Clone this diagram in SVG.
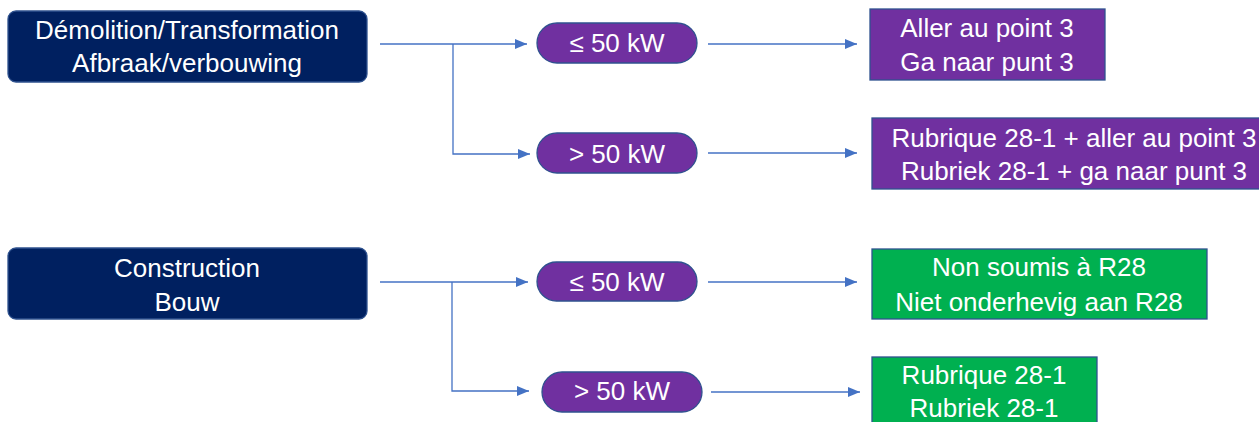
<svg xmlns="http://www.w3.org/2000/svg" width="1259" height="422" viewBox="0 0 1259 422">
<defs>
<style>
.dark{fill:#002060;stroke:#2F528F;stroke-width:1.3}
.pill{fill:#7030A0;stroke:#2F528F;stroke-width:1.3}
.res{fill:#7030A0;stroke:#2F528F;stroke-width:1.3}
.ok{fill:#00B050;stroke:#2F528F;stroke-width:1.3}
text{font-family:"Liberation Sans",Arial,sans-serif;font-size:26px;fill:#FFFFFF;text-anchor:middle}
.c{fill:none;stroke:#4472C4;stroke-width:1.3}
</style>
<marker id="ar" markerUnits="userSpaceOnUse" markerWidth="14" markerHeight="12" refX="12" refY="5" orient="auto">
<path d="M0,0 L12,5 L0,10 Z" fill="#4472C4"/>
</marker>
</defs>
<g id="connectors">
<path class="c" d="M380,44 H527" marker-end="url(#ar)"/>
<path class="c" d="M453,44 V154 H530" marker-end="url(#ar)"/>
<path class="c" d="M708,44 H857" marker-end="url(#ar)"/>
<path class="c" d="M708,153 H857" marker-end="url(#ar)"/>
<path class="c" d="M380,282 H528" marker-end="url(#ar)"/>
<path class="c" d="M452,282 V391 H529" marker-end="url(#ar)"/>
<path class="c" d="M708,282 H857" marker-end="url(#ar)"/>
<path class="c" d="M711,392 H860" marker-end="url(#ar)"/>
</g>
<g id="demolition">
<rect class="dark" x="8" y="11" width="359" height="71" rx="8"/>
<text x="187" y="39">Démolition/Transformation</text>
<text x="187" y="72">Afbraak/verbouwing</text>
</g>
<g id="demo-le50">
<rect class="pill" x="537" y="23" width="160" height="40" rx="20"/>
<text x="617" y="52">≤ 50 kW</text>
</g>
<g id="demo-gt50">
<rect class="pill" x="537" y="133" width="160" height="40" rx="20"/>
<text x="617" y="163">&gt; 50 kW</text>
</g>
<g id="demo-le50-result">
<rect class="res" x="870" y="9" width="235" height="71"/>
<text x="987" y="37">Aller au point 3</text>
<text x="987" y="71">Ga naar punt 3</text>
</g>
<g id="demo-gt50-result">
<rect class="res" x="872" y="118" width="404" height="71"/>
<text x="1074" y="147">Rubrique 28-1 + aller au point 3</text>
<text x="1074" y="180">Rubriek 28-1 + ga naar punt 3</text>
</g>
<g id="construction">
<rect class="dark" x="8" y="248" width="359" height="71" rx="8"/>
<text x="187" y="277">Construction</text>
<text x="187" y="311">Bouw</text>
</g>
<g id="constr-le50">
<rect class="pill" x="537" y="262" width="160" height="39" rx="19.5"/>
<text x="617" y="291">≤ 50 kW</text>
</g>
<g id="constr-gt50">
<rect class="pill" x="542" y="372" width="160" height="40" rx="20"/>
<text x="622" y="400">&gt; 50 kW</text>
</g>
<g id="constr-le50-result">
<rect class="ok" x="872" y="249" width="335" height="70"/>
<text x="1039" y="276">Non soumis à R28</text>
<text x="1039" y="311">Niet onderhevig aan R28</text>
</g>
<g id="constr-gt50-result">
<rect class="ok" x="872" y="357" width="225" height="80"/>
<text x="984" y="384">Rubrique 28-1</text>
<text x="984" y="417">Rubriek 28-1</text>
</g>
</svg>
